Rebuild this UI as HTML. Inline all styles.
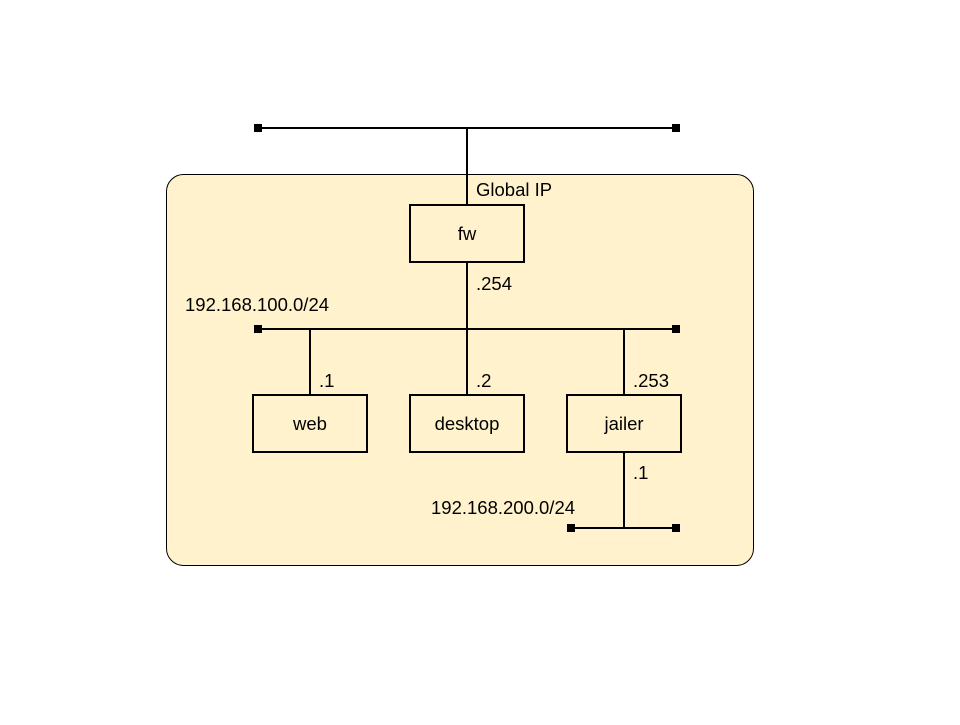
<!DOCTYPE html>
<html><head><style>body{margin:0;background:#fff}</style></head><body>
<svg width="960" height="720" xmlns="http://www.w3.org/2000/svg" font-family="Liberation Sans, Arial, sans-serif" font-size="18.5">
<rect x="166.5" y="174.5" width="587" height="391" rx="17" fill="#fff2cc" stroke="#000" stroke-width="1"/>
<g stroke="#000" stroke-width="2" fill="none">
<line x1="258" y1="128" x2="676" y2="128"/>
<line x1="467" y1="128" x2="467" y2="205"/>
<line x1="467" y1="262" x2="467" y2="329"/>
<line x1="258" y1="329" x2="676" y2="329"/>
<line x1="310" y1="329" x2="310" y2="395"/>
<line x1="467" y1="329" x2="467" y2="395"/>
<line x1="624" y1="329" x2="624" y2="395"/>
<line x1="624" y1="452" x2="624" y2="528"/>
<line x1="571" y1="528" x2="676" y2="528"/>
<rect x="410" y="205" width="114" height="57" fill="#fff2cc"/>
<rect x="253" y="395" width="114" height="57" fill="#fff2cc"/>
<rect x="410" y="395" width="114" height="57" fill="#fff2cc"/>
<rect x="567" y="395" width="114" height="57" fill="#fff2cc"/>
</g>
<g fill="#000">
<rect x="254" y="124" width="8" height="8"/><rect x="672" y="124" width="8" height="8"/>
<rect x="254" y="325" width="8" height="8"/><rect x="672" y="325" width="8" height="8"/>
<rect x="567" y="524" width="8" height="8"/><rect x="672" y="524" width="8" height="8"/>
</g>
<g fill="#000">
<text x="476" y="196">Global IP</text>
<text x="467" y="240" text-anchor="middle">fw</text>
<text x="476" y="290">.254</text>
<text x="185" y="311">192.168.100.0/24</text>
<text x="319" y="387">.1</text>
<text x="476" y="387">.2</text>
<text x="633" y="387">.253</text>
<text x="310" y="430" text-anchor="middle">web</text>
<text x="467" y="430" text-anchor="middle">desktop</text>
<text x="624" y="430" text-anchor="middle">jailer</text>
<text x="633" y="479">.1</text>
<text x="431" y="514">192.168.200.0/24</text>
</g>
</svg>
</body></html>
